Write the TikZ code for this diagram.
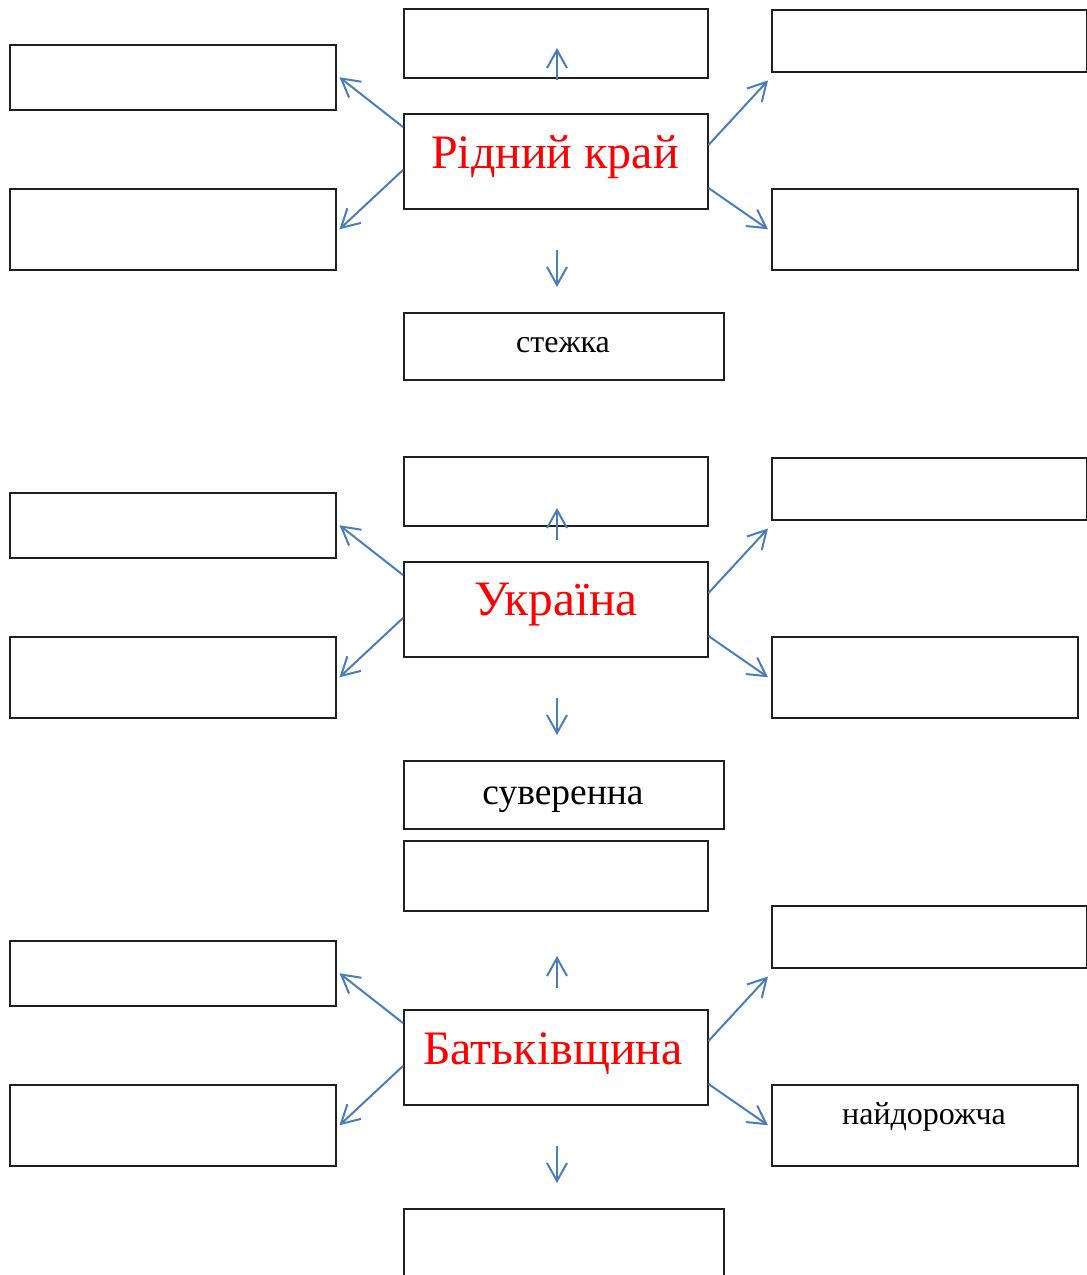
\documentclass[tikz,border=0pt]{standalone}
\usepackage{fontspec}
\setmainfont{Liberation Serif}
\usetikzlibrary{arrows.meta,calc}
\definecolor{arrblue}{HTML}{4A7EBB}
\definecolor{boxline}{HTML}{202020}
\begin{document}
\begin{tikzpicture}[x=1pt,y=-1pt,
  bx/.style={draw=boxline, line width=1.5pt, inner sep=0pt, anchor=north west},
  arr/.style={draw=arrblue, line width=2pt, -{Straight Barb[length=18pt,width=20pt]}},
  big/.style={text=red, font=\fontsize{48}{52}\selectfont, anchor=base, inner sep=0pt},
  lbl/.style={text=black, anchor=base, inner sep=0pt}]
\useasboundingbox (0,0) rectangle (1087,1275);
\clip (0,0) rectangle (1087,1275);

% repeated parts of the three groups
\foreach \s/\o in {1/0,2/448,3/896}{
  \node[bx, minimum width=326pt, minimum height=65pt] (la\s) at (9,{44+\o}) {};
  \node[bx, minimum width=326pt, minimum height=81pt] (lb\s) at (9,{188+\o}) {};
  \node[bx, minimum width=315pt, minimum height=62pt] (ra\s) at (771,{9+\o}) {};
  \node[bx, minimum width=306pt, minimum height=81pt] (rb\s) at (771,{188+\o}) {};
  \node[bx, minimum width=304pt, minimum height=95pt] (c\s) at (403,{113+\o}) {};
  \coordinate (dA\s) at (557,{250+\o});
  \coordinate (dB\s) at (557,{287+\o});
  \draw[arr] ([yshift=-14pt]c\s.north west) -- ([xshift=3pt]la\s.east);
  \draw[arr] ([yshift=-57pt]c\s.north west) -- ([xshift=3pt]lb\s.east);
  \draw[arr] ([yshift=-32pt]c\s.north east) -- ([shift={(-3pt,-8pt)}]ra\s.south west);
  \draw[arr] ([yshift=-75pt]c\s.north east) -- ([xshift=-3pt]rb\s.west);
  \draw[arr] (dA\s) -- (dB\s);
}

% top boxes
\node[bx, minimum width=304pt, minimum height=69pt] (t1) at (403,8) {};
\node[bx, minimum width=304pt, minimum height=69pt] (t2) at (403,456) {};
\node[bx, minimum width=304pt, minimum height=70pt] (t3) at (403,840) {};

% up arrows
\coordinate (uA1) at (557,80);  \coordinate (uB1) at (557,48);
\coordinate (uA2) at (557,540); \coordinate (uB2) at (557,508);
\coordinate (uA3) at (557,988); \coordinate (uB3) at (557,956);
\draw[arr] (uA1) -- (uB1);
\draw[arr] (uA2) -- (uB2);
\draw[arr] (uA3) -- (uB3);

% bottom boxes
\node[bx, minimum width=320pt, minimum height=67pt] (b1) at (403,312) {};
\node[bx, minimum width=320pt, minimum height=68pt] (b2) at (403,760) {};
\node[bx, minimum width=320pt, minimum height=80pt] (b3) at (403,1208) {};

% texts
\node[big] (x1) at (555,168) {Рідний край};
\node[big, font=\fontsize{49.5}{54}\selectfont] (x2) at (556,615) {Україна};
\node[big] (x3) at (553,1064) {Батьківщина};
\node[lbl, font=\fontsize{32}{36}\selectfont] (y1) at (563,352) {стежка};
\node[lbl, font=\fontsize{37.5}{42}\selectfont] (y2) at (563,804) {суверенна};
\node[lbl, font=\fontsize{32}{36}\selectfont] (y3) at (924,1124) {найдорожча};
\end{tikzpicture}
\end{document}
